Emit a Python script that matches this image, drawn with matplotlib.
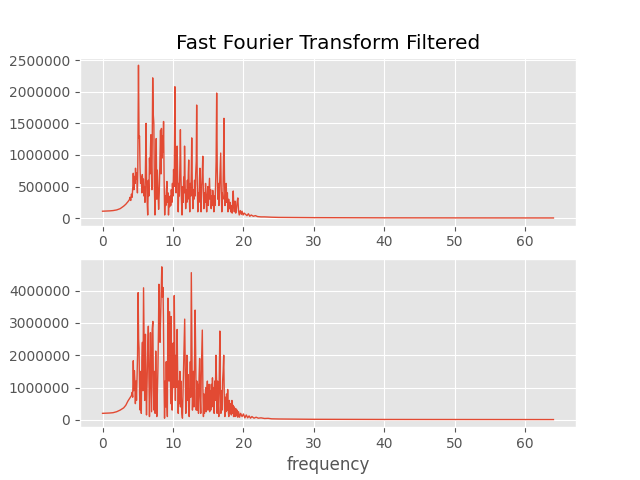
import numpy as np
import matplotlib
matplotlib.use("Agg")
from matplotlib import pyplot as plt

# values, amplitudes in millions
top_freq = [0.0, 0.5, 1.0, 1.5, 2.0, 2.5, 3.0, 3.3, 3.6, 3.8, 3.9, 4.0, 4.1, 4.2, 4.3, 4.36,
            4.45, 4.55, 4.62, 4.68, 4.76, 4.85, 4.95, 5.0, 5.1, 5.18, 5.25, 5.32, 5.4, 5.5,
            5.58, 5.64, 5.72, 5.8, 5.88, 5.95, 6.02, 6.1, 6.18, 6.25, 6.32, 6.41, 6.5, 6.58,
            6.66, 6.74, 6.8, 6.86, 6.93, 7.0, 7.06, 7.12, 7.2, 7.28, 7.36, 7.44, 7.52, 7.62,
            7.7, 7.78, 7.88, 7.96, 8.05, 8.14, 8.23, 8.3, 8.36, 8.44, 8.52, 8.6, 8.66, 8.74,
            8.82, 8.9, 8.98, 9.06, 9.14, 9.22, 9.3, 9.36, 9.44, 9.52, 9.6, 9.68, 9.76, 9.84,
            9.92, 10.0, 10.08, 10.16, 10.27, 10.35, 10.44, 10.52, 10.59, 10.66, 10.74, 10.82,
            10.9, 10.98, 11.05, 11.12, 11.2, 11.28, 11.36, 11.44, 11.52, 11.58, 11.64, 11.72,
            11.8, 11.88, 11.96, 12.04, 12.1, 12.17, 12.23, 12.3, 12.38, 12.46, 12.54, 12.6,
            12.66, 12.74, 12.82, 12.9, 12.98, 13.06, 13.14, 13.22, 13.3, 13.36, 13.44, 13.52,
            13.6, 13.68, 13.75, 13.82, 13.9, 13.98, 14.06, 14.14, 14.23, 14.3, 14.38, 14.46,
            14.54, 14.62, 14.7, 14.78, 14.86, 14.94, 15.02, 15.1, 15.18, 15.26, 15.34, 15.42,
            15.5, 15.58, 15.64, 15.72, 15.8, 15.88, 15.96, 16.04, 16.12, 16.2, 16.28, 16.36,
            16.44, 16.52, 16.6, 16.68, 16.77, 16.85, 16.93, 17.0, 17.08, 17.16, 17.23, 17.3,
            17.38, 17.46, 17.55, 17.63, 17.72, 17.8, 17.9, 18.0, 18.1, 18.2, 18.3, 18.4,
            18.48, 18.55, 18.62, 18.7, 18.8, 18.9, 19.0, 19.1, 19.2, 19.3, 19.4, 19.55, 19.7,
            19.8, 19.95, 20.1, 20.3, 20.5, 20.7, 20.9, 21.1, 21.4, 21.7, 22.0, 22.5, 23.0,
            24.0, 25.0, 27.0, 30.0, 35.0, 40.0, 45.0, 50.0, 55.0, 60.0, 64.0]
top_amp = [0.11, 0.112, 0.115, 0.12, 0.13, 0.15, 0.19, 0.22, 0.26, 0.29, 0.33, 0.28, 0.38, 0.33,
           0.50, 0.71, 0.45, 0.66, 0.55, 0.79, 0.62, 0.72, 0.40, 0.75, 2.42, 1.27, 1.30, 0.80,
           0.55, 0.65, 0.40, 0.69, 0.55, 0.62, 0.35, 0.50, 0.25, 0.90, 1.50, 0.60, 0.30, 0.05,
           0.60, 0.35, 0.95, 0.70, 1.10, 1.32, 0.80, 0.45, 1.40, 2.22, 1.64, 1.50, 0.50, 0.05,
           0.45, 1.26, 0.30, 0.76, 0.40, 0.14, 0.40, 0.90, 1.39, 0.70, 1.42, 0.95, 1.30, 1.05,
           1.53, 0.60, 0.05, 0.35, 0.20, 0.45, 0.58, 0.25, 0.40, 0.05, 0.30, 0.18, 0.35, 0.20,
           0.45, 0.25, 0.55, 0.35, 0.77, 0.50, 2.08, 0.90, 0.40, 0.75, 1.14, 0.60, 0.10, 0.55,
           0.35, 0.85, 1.40, 0.70, 0.30, 0.05, 0.50, 0.25, 0.65, 0.40, 1.14, 0.55, 0.15, 0.45,
           0.25, 0.60, 0.30, 0.70, 0.92, 0.40, 0.10, 0.55, 0.35, 0.75, 1.27, 0.50, 0.15, 0.45,
           0.30, 0.60, 0.35, 0.70, 0.90, 1.79, 0.60, 0.10, 0.40, 0.25, 0.60, 0.79, 0.45, 0.10,
           0.50, 0.65, 0.98, 0.45, 0.15, 0.40, 0.25, 0.55, 0.30, 0.10, 0.35, 0.50, 0.20, 0.40,
           0.63, 0.30, 0.45, 0.15, 0.35, 0.20, 0.44, 0.25, 0.10, 0.35, 0.20, 0.50, 0.90, 1.98,
           0.80, 0.30, 0.55, 0.20, 0.45, 0.70, 1.03, 0.40, 0.10, 0.40, 0.30, 0.85, 1.58, 0.70,
           0.20, 0.35, 0.55, 0.25, 0.40, 0.10, 0.30, 0.15, 0.25, 0.10, 0.20, 0.08, 0.30, 0.43,
           0.20, 0.10, 0.27, 0.08, 0.15, 0.25, 0.32, 0.12, 0.05, 0.12, 0.06, 0.11, 0.05, 0.08,
           0.06, 0.04, 0.07, 0.03, 0.05, 0.03, 0.04, 0.025, 0.02, 0.02, 0.015, 0.012, 0.01,
           0.008, 0.006, 0.005, 0.004, 0.004, 0.004, 0.003, 0.003]

bot_freq = [0.0, 0.5, 1.0, 1.5, 2.0, 2.5, 3.0, 3.3, 3.6, 3.9, 4.1, 4.2, 4.28, 4.36, 4.44, 4.52,
            4.59, 4.66, 4.74, 4.82, 4.9, 4.97, 5.05, 5.12, 5.18, 5.26, 5.34, 5.42, 5.5, 5.58,
            5.66, 5.74, 5.82, 5.9, 5.98, 6.05, 6.09, 6.16, 6.24, 6.32, 6.41, 6.5, 6.58, 6.66,
            6.74, 6.8, 6.88, 6.96, 7.05, 7.14, 7.22, 7.3, 7.38, 7.46, 7.55, 7.62, 7.7, 7.78,
            7.86, 7.94, 8.0, 8.08, 8.16, 8.23, 8.32, 8.41, 8.5, 8.58, 8.64, 8.72, 8.8, 8.88,
            8.96, 9.04, 9.12, 9.2, 9.28, 9.36, 9.44, 9.52, 9.6, 9.68, 9.73, 9.8, 9.88, 9.95,
            10.02, 10.1, 10.18, 10.26, 10.34, 10.42, 10.5, 10.59, 10.66, 10.74, 10.82, 10.9,
            10.98, 11.06, 11.12, 11.18, 11.26, 11.34, 11.42, 11.5, 11.58, 11.66, 11.74, 11.82,
            11.9, 11.98, 12.06, 12.14, 12.22, 12.3, 12.38, 12.46, 12.52, 12.6, 12.68, 12.76,
            12.84, 12.9, 12.98, 13.06, 13.14, 13.22, 13.3, 13.38, 13.46, 13.54, 13.62, 13.7,
            13.78, 13.86, 13.94, 14.02, 14.1, 14.16, 14.24, 14.32, 14.4, 14.48, 14.56, 14.64,
            14.72, 14.8, 14.88, 14.96, 15.04, 15.12, 15.2, 15.28, 15.36, 15.44, 15.52, 15.6,
            15.68, 15.76, 15.84, 15.92, 16.0, 16.1, 16.18, 16.26, 16.34, 16.42, 16.5, 16.58,
            16.65, 16.72, 16.8, 16.88, 16.96, 17.04, 17.12, 17.2, 17.28, 17.36, 17.44, 17.52,
            17.6, 17.68, 17.76, 17.84, 17.92, 18.0, 18.1, 18.2, 18.28, 18.36, 18.44, 18.52,
            18.6, 18.7, 18.8, 18.9, 19.0, 19.1, 19.2, 19.3, 19.45, 19.6, 19.8, 20.0, 20.2,
            20.4, 20.6, 20.8, 21.0, 21.2, 21.5, 21.8, 22.1, 22.5, 23.0, 23.5, 24.0, 25.0,
            27.0, 30.0, 35.0, 40.0, 50.0, 64.0]
bot_amp = [0.20, 0.205, 0.21, 0.22, 0.25, 0.30, 0.37, 0.45, 0.58, 0.68, 0.75, 0.85, 0.70, 1.83,
           0.90, 1.52, 1.20, 0.50, 1.20, 0.60, 1.30, 2.00, 3.94, 2.50, 2.20, 0.80, 0.30, 1.50,
           0.20, 1.80, 2.40, 0.90, 4.09, 2.20, 0.60, 2.13, 2.65, 1.20, 0.15, 1.20, 2.20, 2.90,
           1.30, 0.10, 1.40, 2.70, 1.50, 0.25, 2.80, 3.05, 1.00, 0.30, 1.50, 0.20, 2.13, 1.00,
           0.10, 0.90, 1.60, 2.80, 4.20, 3.20, 2.40, 3.05, 4.00, 4.74, 3.80, 4.10, 3.20, 1.20,
           0.05, 1.20, 0.40, 1.80, 0.70, 0.10, 3.77, 2.80, 1.20, 3.35, 2.00, 0.50, 3.20, 1.50,
           0.30, 1.20, 2.38, 1.00, 3.85, 2.00, 0.60, 2.00, 1.00, 2.80, 1.40, 0.20, 1.20, 0.50,
           1.50, 0.40, 1.20, 0.70, 0.20, 0.05, 0.90, 1.60, 2.40, 3.12, 1.50, 0.20, 1.20, 2.00,
           0.60, 1.40, 0.40, 0.10, 1.00, 1.80, 0.70, 4.56, 2.60, 0.30, 1.20, 1.50, 0.40, 1.80,
           3.40, 2.00, 0.30, 1.20, 0.30, 1.10, 0.20, 1.30, 1.90, 0.70, 0.20, 1.50, 2.30, 2.78,
           1.00, 0.10, 0.80, 0.20, 0.60, 1.00, 0.25, 0.90, 1.20, 0.30, 0.90, 1.10, 0.25, 0.90,
           0.30, 1.10, 0.40, 1.30, 0.50, 1.00, 0.20, 1.20, 0.60, 2.00, 1.20, 0.20, 1.20, 0.50,
           0.10, 1.50, 2.75, 1.00, 0.20, 0.90, 0.30, 1.20, 1.50, 2.00, 0.70, 0.10, 0.70, 0.25,
           0.80, 0.30, 0.94, 0.30, 0.10, 0.60, 0.20, 0.50, 0.15, 0.60, 0.20, 0.45, 0.10, 0.40,
           0.10, 0.35, 0.12, 0.30, 0.08, 0.25, 0.08, 0.20, 0.10, 0.18, 0.06, 0.15, 0.06, 0.12,
           0.05, 0.10, 0.05, 0.08, 0.05, 0.06, 0.04, 0.045, 0.03, 0.025, 0.02, 0.015, 0.012,
           0.01, 0.008, 0.007]

plt.style.use("ggplot")
fig, (ax1, ax2) = plt.subplots(2, 1, figsize=(6.4, 4.8), dpi=100)

ax1.plot(top_freq, np.array(top_amp) * 1e6, linewidth=1.0)
ax1.set_title("Fast Fourier Transform Filtered")
ax1.set_yticks([0, 500000, 1000000, 1500000, 2000000, 2500000])
ax1.ticklabel_format(style="plain", axis="y", useOffset=False)

ax2.plot(bot_freq, np.array(bot_amp) * 1e6, linewidth=1.0)
ax2.set_xlabel("frequency")
ax2.set_yticks([0, 1000000, 2000000, 3000000, 4000000])
ax2.ticklabel_format(style="plain", axis="y", useOffset=False)

for ax in (ax1, ax2):
    ax.set_xticks([0, 10, 20, 30, 40, 50, 60])

fig.savefig("out.png")
